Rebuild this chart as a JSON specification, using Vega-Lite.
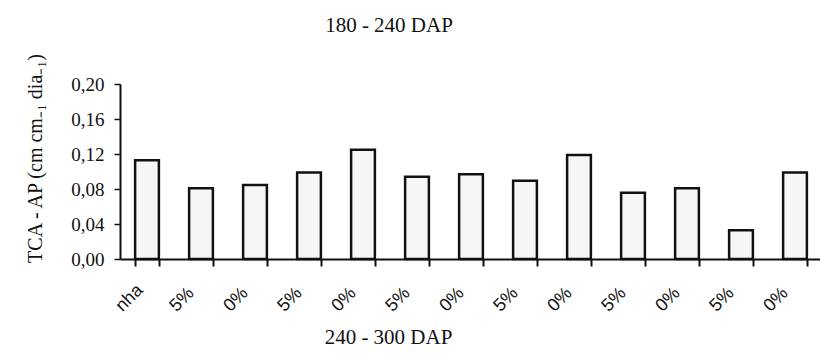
{
  "$schema": "https://vega.github.io/schema/vega-lite/v6.json",
  "autosize": "none",
  "width": 702,
  "height": 175,
  "padding": {"left": 120, "top": 84, "right": 0, "bottom": 94},
  "background": "white",
  "title": {
    "text": "180 - 240 DAP",
    "font": "Liberation Serif",
    "fontSize": 21,
    "fontWeight": "normal",
    "color": "#111",
    "anchor": "middle",
    "dx": -82,
    "offset": 16
  },
  "data": {
    "values": [
      {"key": "nha|1", "value": 0.113},
      {"key": "5%|2", "value": 0.081},
      {"key": "0%|3", "value": 0.0846},
      {"key": "5%|4", "value": 0.099},
      {"key": "0%|5", "value": 0.125},
      {"key": "5%|6", "value": 0.094},
      {"key": "0%|7", "value": 0.097},
      {"key": "5%|8", "value": 0.0895},
      {"key": "0%|9", "value": 0.119},
      {"key": "5%|10", "value": 0.0758},
      {"key": "0%|11", "value": 0.081},
      {"key": "5%|12", "value": 0.033},
      {"key": "0%|13", "value": 0.099}
    ]
  },
  "mark": {"type": "bar", "fill": "#f6f6f6", "stroke": "#111", "strokeWidth": 2.5},
  "encoding": {
    "x": {
      "field": "key",
      "type": "nominal",
      "sort": null,
      "scale": {"paddingInner": 0.56, "paddingOuter": 0.28},
      "axis": {
        "title": "240 - 300 DAP",
        "titleFont": "Liberation Serif",
        "titleFontSize": 21,
        "titleFontWeight": "normal",
        "titleColor": "#111",
        "titleX": 268,
        "titleY": 84,
        "titleBaseline": "alphabetic",
        "ticks": true,
        "tickBand": "extent",
        "tickOpacity": 1,
        "labelOffset": -25,
        "labelExpr": "isValid(datum.value) ? split(datum.value, '|')[0] : ''",
        "labelAngle": 315,
        "labelAlign": "left",
        "labelBaseline": "alphabetic",
        "labelPadding": 46,
        "labelFont": "Liberation Sans",
        "labelFontSize": 18,
        "labelColor": "#111",
        "domainColor": "#111",
        "domainWidth": 2,
        "tickColor": "#111",
        "tickWidth": 2,
        "tickSize": 7,
        "grid": false
      }
    },
    "y": {
      "field": "value",
      "type": "quantitative",
      "scale": {"domain": [0, 0.2], "nice": false},
      "axis": {
        "title": "TCA - AP (cm cm₋₁ dia₋₁)",
        "titleFont": "Liberation Serif",
        "titleFontSize": 20,
        "titleFontWeight": "normal",
        "titleColor": "#111",
        "titlePadding": 25,
        "titleY": 74,
        "values": [0, 0.04, 0.08, 0.12, 0.16, 0.2],
        "labelExpr": "replace(format(datum.value, '.2f'), '.', ',')",
        "labelFont": "Liberation Serif",
        "labelFontSize": 19,
        "labelColor": "#111",
        "labelPadding": 10,
        "domainColor": "#111",
        "domainWidth": 2,
        "tickColor": "#111",
        "tickWidth": 1.5,
        "tickSize": 6,
        "grid": false
      }
    }
  },
  "config": {"view": {"stroke": null}}
}
